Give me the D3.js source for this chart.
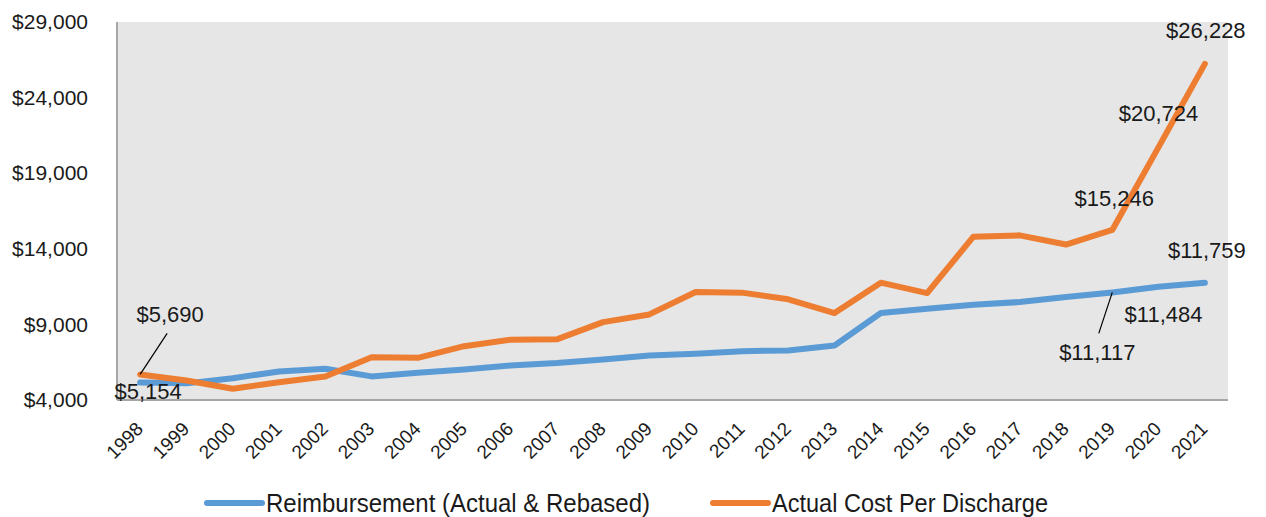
<!DOCTYPE html>
<html>
<head>
<meta charset="utf-8">
<script src="https://cdn.jsdelivr.net/npm/d3@7"></script>
<style>
    body { margin: 0; background: #fff; }
    text { font-family: "Liberation Sans", Arial, sans-serif; fill: #1a1a1a; }
</style>
</head>
<body>
<div id="chart"></div>
<script>
var YEARS = ["1998", "1999", "2000", "2001", "2002", "2003", "2004", "2005", "2006", "2007", "2008", "2009",
             "2010", "2011", "2012", "2013", "2014", "2015", "2016", "2017", "2018", "2019", "2020", "2021"];

var REIMBURSEMENT = [5154, 5100, 5440, 5890, 6070, 5560, 5800, 6020, 6280, 6440, 6680, 6950,
                     7060, 7230, 7280, 7610, 9750, 10040, 10300, 10480, 10810, 11117, 11484, 11759];

var ACTUAL_COST = [5690, 5290, 4740, 5180, 5560, 6830, 6790, 7560, 7990, 8010, 9150, 9660,
                   11140, 11100, 10660, 9750, 11760, 11070, 14800, 14890, 14280, 15246, 20724, 26228];

var Y_TICKS = [4000, 9000, 14000, 19000, 24000, 29000];

var SERIES_NAMES = ["Reimbursement (Actual & Rebased)", "Actual Cost Per Discharge"];

// labels shown on the chart: [year index, dx, dy, leader line]
var BLUE_LABELS = [[0, 8, 16, false], [21, -15, 68, true], [22, 5, 35, false], [23, 2, -25, false]];
var ORANGE_LABELS = [[0, 30, -52, true], [21, 2, -24, false], [22, 0, -26, false], [23, 1, -26, false]];

var W = 1266, H = 517;
var margin = {top: 22, right: 38, bottom: 117, left: 117},
    width = W - margin.left - margin.right,
    height = H - margin.top - margin.bottom;

var fmt = function(v) { return "$" + d3.format(",")(v); };

var svg = d3.select("#chart").append("svg")
    .attr("width", W)
    .attr("height", H);

var g = svg.append("g")
    .attr("transform", "translate(" + margin.left + "," + margin.top + ")");

// scales
var x = d3.scaleBand().domain(YEARS).range([0, width]);
var y = d3.scaleLinear().domain([4000, 29000]).range([height, 0]);
var cx = function(i) { return x(YEARS[i]) + x.bandwidth() / 2; };

// plot background
g.append("rect")
    .attr("width", width)
    .attr("height", height)
    .attr("fill", "#e6e6e6");

// axes lines
g.append("line").attr("x1", 0).attr("x2", 0).attr("y1", 0).attr("y2", height)
    .attr("stroke", "#a6a6a6").attr("stroke-width", 2);
g.append("line").attr("x1", 0).attr("x2", width).attr("y1", height).attr("y2", height)
    .attr("stroke", "#a6a6a6").attr("stroke-width", 2);

// y tick labels
var yAxis = d3.axisLeft(y).tickValues(Y_TICKS).tickFormat(fmt).tickSize(0).tickPadding(29);
var ya = g.append("g").call(yAxis);
ya.select(".domain").remove();
ya.selectAll("text")
    .style("font-size", "21px")
    .attr("fill", "#1a1a1a");

// x tick labels
var xAxis = d3.axisBottom(x).tickSize(0);
var xa = g.append("g").attr("transform", "translate(0," + height + ")").call(xAxis);
xa.select(".domain").remove();
xa.selectAll("text")
    .style("font-size", "19px")
    .attr("fill", "#1a1a1a")
    .attr("text-anchor", "end")
    .attr("dy", null)
    .attr("y", 0)
    .attr("transform", "translate(4,30) rotate(-45)");

// lines
var line = d3.line()
    .x(function(d, i) { return cx(i); })
    .y(function(d) { return y(d); });

g.append("path").datum(REIMBURSEMENT)
    .attr("fill", "none").attr("stroke", "#5b9bd5").attr("stroke-width", 6)
    .attr("stroke-linejoin", "round").attr("stroke-linecap", "round")
    .attr("d", line);

g.append("path").datum(ACTUAL_COST)
    .attr("fill", "none").attr("stroke", "#ed7d31").attr("stroke-width", 6)
    .attr("stroke-linejoin", "round").attr("stroke-linecap", "round")
    .attr("d", line);

// data labels
function addLabels(labels, values) {
    labels.forEach(function(l) {
        var px = cx(l[0]), py = y(values[l[0]]);
        var tx = px + l[1], ty = py + l[2];
        if (l[3]) {
            var endY = l[2] < 0 ? ty + 11 : ty - 27;
            g.append("line")
                .attr("x1", px).attr("y1", py)
                .attr("x2", px + l[1] * 0.9).attr("y2", endY)
                .attr("stroke", "#000").attr("stroke-width", 1.2);
        }
        g.append("text")
            .attr("x", tx).attr("y", ty)
            .attr("text-anchor", "middle")
            .style("font-size", "22px")
            .text(fmt(values[l[0]]));
    });
}
addLabels(BLUE_LABELS, REIMBURSEMENT);
addLabels(ORANGE_LABELS, ACTUAL_COST);

// legend
var legend = svg.append("g");
var legendItems = [
    {name: SERIES_NAMES[0], color: "#5b9bd5", x: 207, len: 384},
    {name: SERIES_NAMES[1], color: "#ed7d31", x: 713, len: 276}
];
legendItems.forEach(function(d) {
    legend.append("line")
        .attr("x1", d.x).attr("x2", d.x + 55)
        .attr("y1", 503).attr("y2", 503)
        .attr("stroke", d.color).attr("stroke-width", 6)
        .attr("stroke-linecap", "round");
    legend.append("text")
        .attr("x", d.x + 59).attr("y", 512)
        .attr("textLength", d.len)
        .attr("lengthAdjust", "spacingAndGlyphs")
        .style("font-size", "26px")
        .text(d.name);
});
</script>
</body>
</html>
